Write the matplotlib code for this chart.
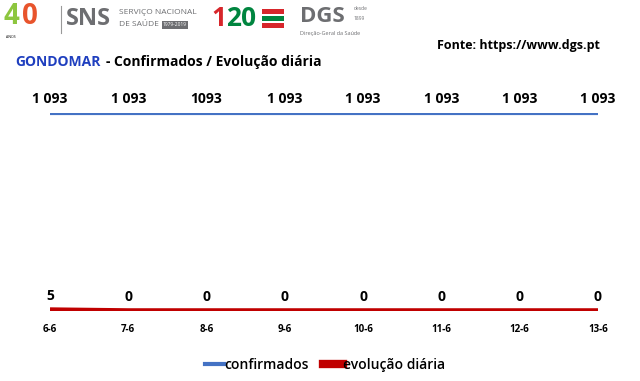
import matplotlib.pyplot as plt
from matplotlib.patches import Rectangle
import numpy as np

DATES = ["6-6", "7-6", "8-6", "9-6", "10-6", "11-6", "12-6", "13-6"]
CONFIRMADOS = [1093, 1093, 1093, 1093, 1093, 1093, 1093, 1093]
CONF_LABELS = ["1 093", "1 093", "1093", "1 093", "1 093", "1 093", "1 093", "1 093"]
EVOLUCAO = [5, 0, 0, 0, 0, 0, 0, 0]

C_CONF = "#4472C4"
C_EVO = "#C00000"
FONT = "Open Sans"

W, H = 640, 381


def fx(px):
    return px / W


def fy(py):
    return 1 - py / H


def main():
    fig = plt.figure(figsize=(6.4, 3.81), dpi=100)
    fig.patch.set_facecolor("white")

    ax = fig.add_axes([fx(50), fy(311), fx(598) - fx(50), fy(113) - fy(311)])
    x = np.arange(len(DATES))
    l1, = ax.plot(x, CONFIRMADOS, color=C_CONF, lw=3, solid_capstyle="butt",
                  label="confirmados")
    l2, = ax.plot(x, EVOLUCAO, color=C_EVO, lw=4, solid_capstyle="butt",
                  label="evolução diária")
    ax.set_xlim(0, len(DATES) - 1)
    ax.set_ylim(0, max(CONFIRMADOS))
    for s in ax.spines.values():
        s.set_visible(False)
    ax.set_yticks([])
    ax.set_xticks(x)
    ax.set_xticklabels(DATES, fontsize=7, fontweight="bold", family=FONT)
    ax.tick_params(axis="x", length=0, pad=9)

    for xi, v, lab in zip(x, CONFIRMADOS, CONF_LABELS):
        ax.annotate(lab, (xi, v), xytext=(0, 5), textcoords="offset points",
                    ha="center", va="bottom", fontsize=10, fontweight="bold",
                    family=FONT, annotation_clip=False)
    for xi, v in zip(x, EVOLUCAO):
        ax.annotate(str(v), (xi, v), xytext=(0, 5), textcoords="offset points",
                    ha="center", va="bottom", fontsize=10, fontweight="bold",
                    family=FONT, annotation_clip=False)

    h1 = plt.Line2D([], [], color=C_CONF, lw=3)
    h2 = plt.Line2D([], [], color=C_EVO, lw=6)
    fig.legend(handles=[h1, h2], labels=[l1.get_label(), l2.get_label()],
               loc="center", bbox_to_anchor=(fx(325), fy(365)),
               ncol=2, frameon=False, handlelength=1.4, handletextpad=0.05,
               columnspacing=1.0, prop={"family": FONT, "size": 10, "weight": "semibold"})

    # header
    fig.text(fx(15), fy(62), "GONDOMAR", color="#1F3FBF", fontsize=10,
             fontweight="bold", family=FONT, va="center")
    fig.text(fx(106), fy(62), "- Confirmados / Evolução diária", color="black",
             fontsize=10, fontweight="bold", family=FONT, va="center")
    fig.text(fx(600), fy(45), "Fonte: https://www.dgs.pt", fontsize=9,
             fontweight="bold", family=FONT, ha="right", va="center")

    # logos (text approximation)
    fig.text(fx(4), fy(17), "4", color="#8DC63F", fontsize=20, fontweight="bold",
             family=FONT, va="center")
    fig.text(fx(22), fy(17), "0", color="#E8542C", fontsize=20, fontweight="bold",
             family=FONT, va="center")
    fig.text(fx(6), fy(37), "ANOS", fontsize=2.5, family=FONT, va="center")
    fig.add_artist(plt.Line2D([fx(61), fx(61)], [fy(6), fy(33)], color="#999999", lw=0.8))
    fig.text(fx(66), fy(19), "SNS", color="#6D6E71", fontsize=17, fontweight="bold",
             family=FONT, va="center")
    fig.text(fx(119), fy(12), "SERVIÇO NACIONAL", color="#6D6E71", fontsize=6,
             family=FONT, va="center")
    fig.text(fx(119), fy(25), "DE SAÚDE", color="#6D6E71", fontsize=6,
             family=FONT, va="center")
    fig.text(fx(163), fy(25), "1979-2019", color="white", fontsize=3.5,
             family=FONT, va="center",
             bbox=dict(boxstyle="square,pad=0.3", fc="#6D6E71", ec="none"))
    fig.text(fx(211), fy(19), "1", color="#D7262B", fontsize=19, fontweight="bold",
             family=FONT, va="center")
    fig.text(fx(226), fy(19), "20", color="#00853F", fontsize=19, fontweight="bold",
             family=FONT, va="center")
    for i, c in enumerate(["#D7262B", "#00853F", "#D7262B"]):
        fig.add_artist(Rectangle((fx(262), fy(14 + i * 7)), fx(22), 5 / H,
                                 transform=fig.transFigure, fc=c, ec="none"))
    fig.text(fx(300), fy(17), "DGS", color="#6D6E71", fontsize=16, fontweight="bold",
             family=FONT, va="center")
    fig.text(fx(354), fy(9), "desde", color="#6D6E71", fontsize=3.5, family=FONT, va="center")
    fig.text(fx(354), fy(19), "1899", color="#6D6E71", fontsize=3.5, family=FONT, va="center")
    fig.text(fx(300), fy(33), "Direção-Geral da Saúde", color="#6D6E71", fontsize=4,
             family=FONT, va="center")

    fig.savefig("out.png", dpi=100)


if __name__ == "__main__":
    main()
